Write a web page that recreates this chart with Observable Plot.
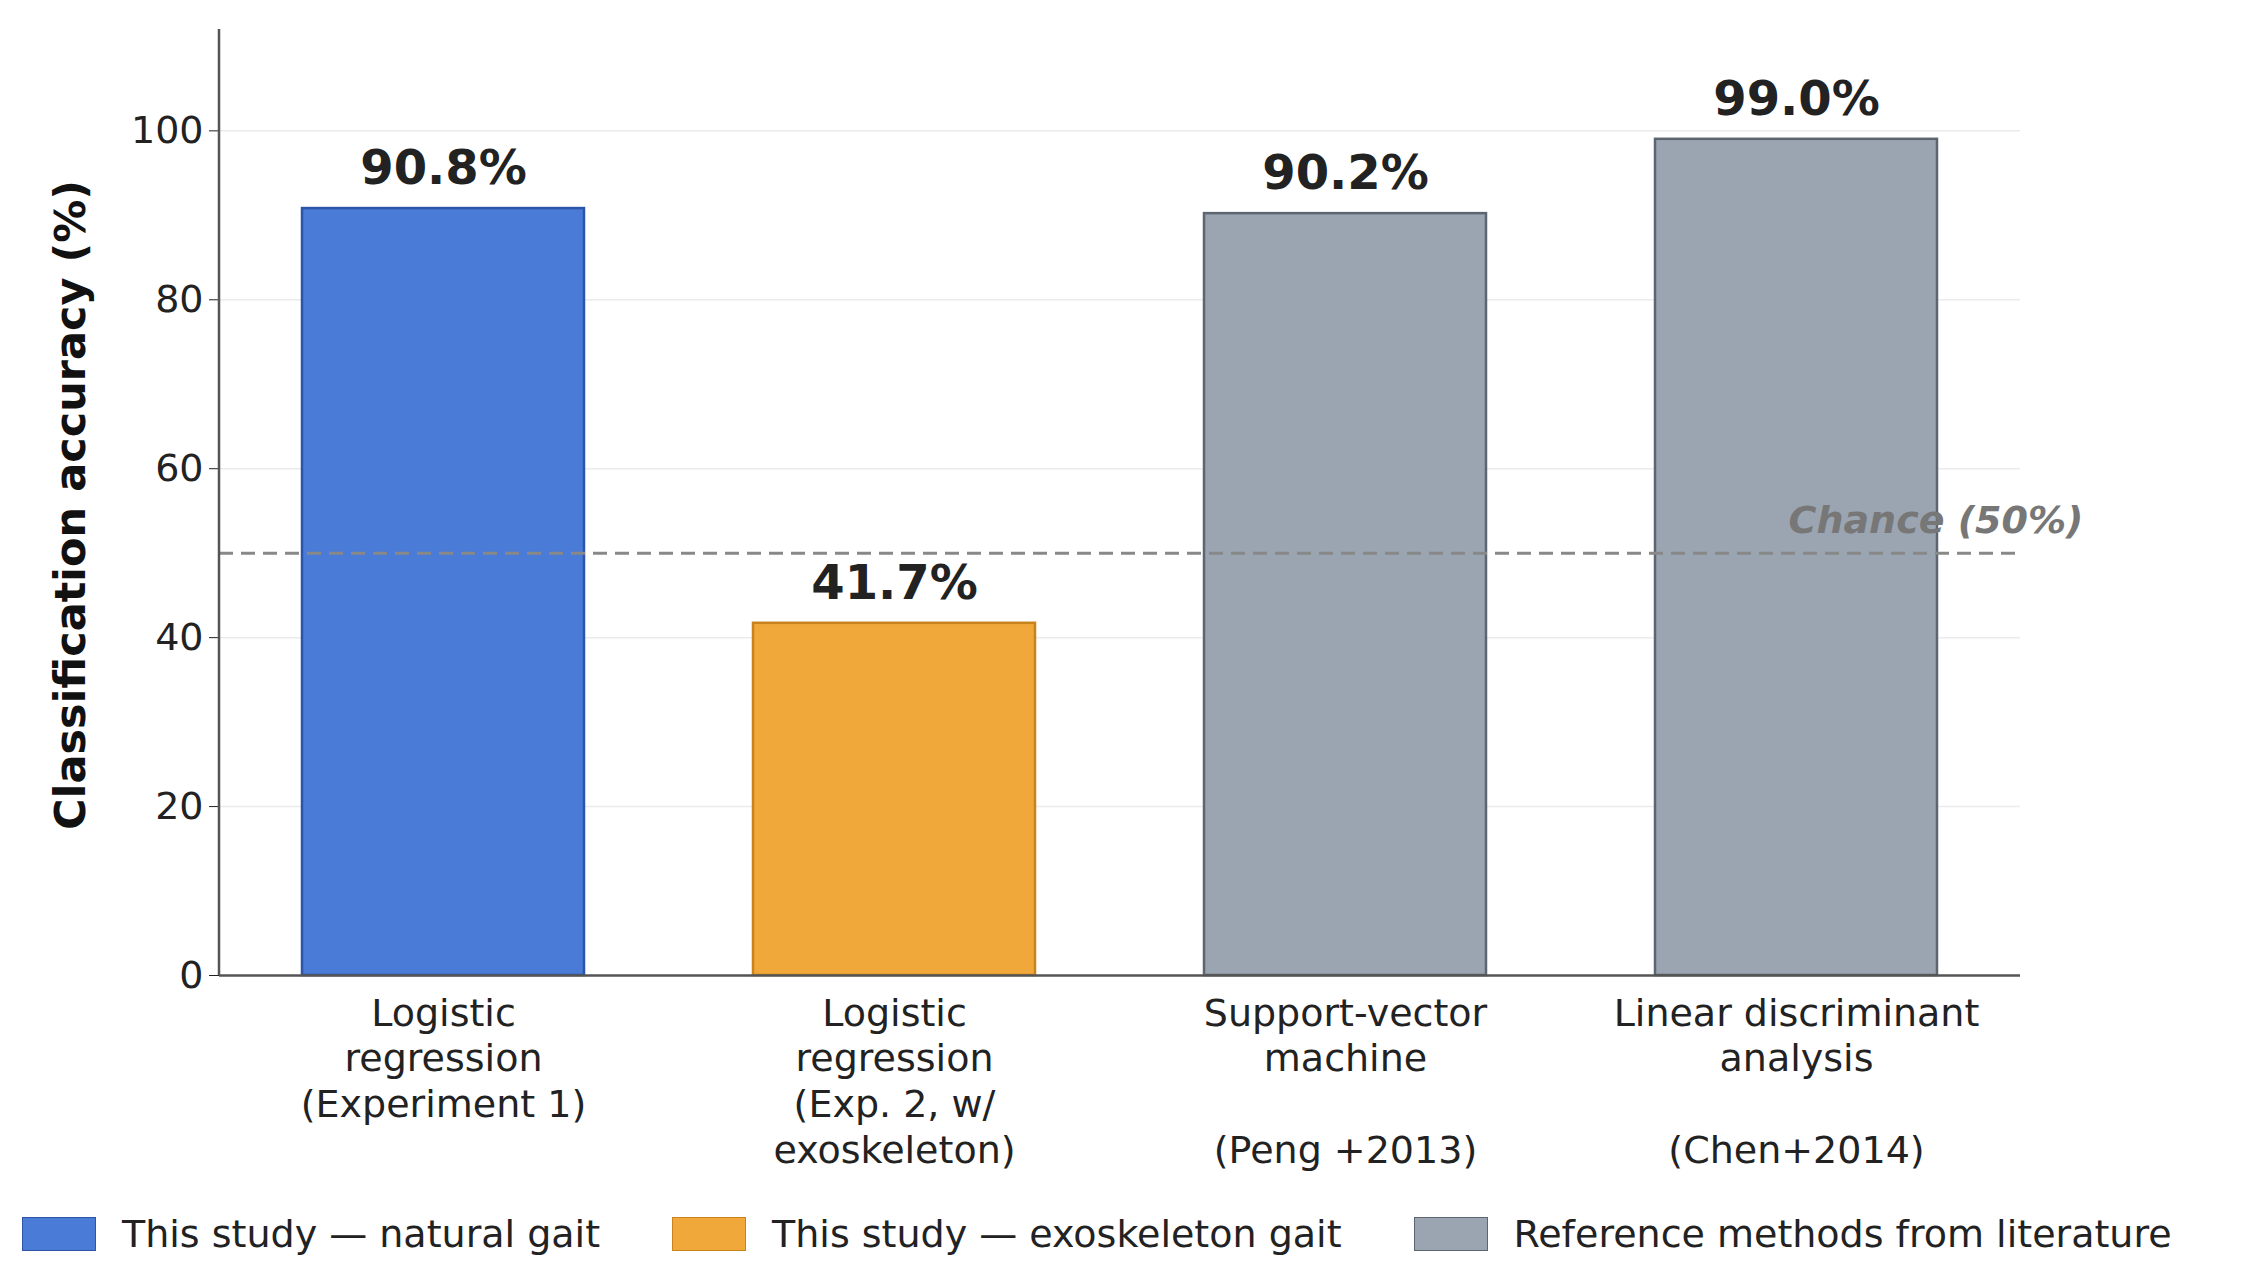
<!DOCTYPE html>
<html><head><meta charset="utf-8">
<script src="https://cdn.jsdelivr.net/npm/d3@7"></script>
<script src="https://cdn.jsdelivr.net/npm/@observablehq/plot@0.6"></script>
<style>
body{margin:0;background:#fff;font-family:"DejaVu Sans",sans-serif}
#legend{display:flex;padding-left:22px;margin-top:22px;font-size:38px;color:#222;align-items:center}
.it{display:flex;align-items:center;margin-right:72px}
.sw{width:72px;height:32px;margin-right:26px;border:1.5px solid}
</style></head><body>
<div id="chart"></div>
<div id="legend"></div>
<script>
const categories = ["Logistic\nregression\n(Experiment 1)","Logistic\nregression\n(Exp. 2, w/\nexoskeleton)","Support-vector\nmachine\n\n(Peng +2013)","Linear discriminant\nanalysis\n\n(Chen+2014)"];
const values = [90.8, 41.7, 90.2, 99.0];
const groups = ["This study — natural gait","This study — exoskeleton gait","Reference methods from literature","Reference methods from literature"];
const groupNames = ["This study — natural gait","This study — exoskeleton gait","Reference methods from literature"];
const fills = ["#4a7bd6","#f0a83a","#9aa5b1"];
const strokes = ["#2c55a8","#c9831c","#5d6670"];
const yTicks = [0,20,40,60,80,100];
const chance = 50;
const data = categories.map((c,i)=>({c, v:values[i], g:groups[i]}));
const fillOf = g => fills[groupNames.indexOf(g)];
const strokeOf = g => strokes[groupNames.indexOf(g)];
const plot = Plot.plot({
  width:2249, height:1190,
  marginLeft:219, marginRight:229, marginTop:29, marginBottom:215,
  style:{fontFamily:"DejaVu Sans", fontSize:"38px", color:"#222", background:"#fff"},
  x:{domain:categories, paddingInner:0.375, paddingOuter:0.18},
  y:{domain:[0,112]},
  marks:[
    Plot.gridY(yTicks.filter(d=>d>0),{stroke:"#ddd", strokeOpacity:0.6, strokeWidth:1.5}),
    Plot.barY(data,{x:"c", y:"v", fill:d=>fillOf(d.g), stroke:d=>strokeOf(d.g), strokeWidth:2.5}),
    Plot.ruleY([chance],{stroke:"#888", strokeWidth:3, strokeDasharray:"14,8"}),
    Plot.text([chance],{y:d=>d, x:()=>categories[3], text:()=>"Chance (50%)", dx:-8, dy:-32, textAnchor:"start", fill:"#777", fontStyle:"italic", fontWeight:"bold", fontSize:38}),
    Plot.text(data,{x:"c", y:"v", text:d=>d.v.toFixed(1)+"%", dy:-40, fontWeight:"bold", fontSize:48, fill:"#222"}),
    Plot.axisY({ticks:yTicks, tickSize:10, tickPadding:6, label:null, fontSize:38}),
    Plot.axisX({tickSize:0, tickPadding:18, label:null, lineHeight:1.2, fontSize:38}),
    Plot.ruleY([0],{stroke:"#555", strokeWidth:2.5})
  ]
});
document.getElementById("chart").append(plot);
const svg = d3.select(plot);
svg.append("line").attr("x1",219).attr("x2",219).attr("y1",29).attr("y2",975).attr("stroke","#555").attr("stroke-width",2.5);
svg.append("text").attr("transform","translate(85,505) rotate(-90)").attr("text-anchor","middle")
  .attr("font-family","DejaVu Sans").attr("font-weight","bold").attr("font-size",43).attr("fill","#111")
  .text("Classification accuracy (%)");
const lg = document.getElementById("legend");
groupNames.forEach((g,i)=>{
  const it=document.createElement("div");it.className="it";
  it.innerHTML=`<span class="sw" style="background:${fills[i]};border-color:${strokes[i]}"></span><span>${g}</span>`;
  lg.append(it);
});
</script></body></html>
